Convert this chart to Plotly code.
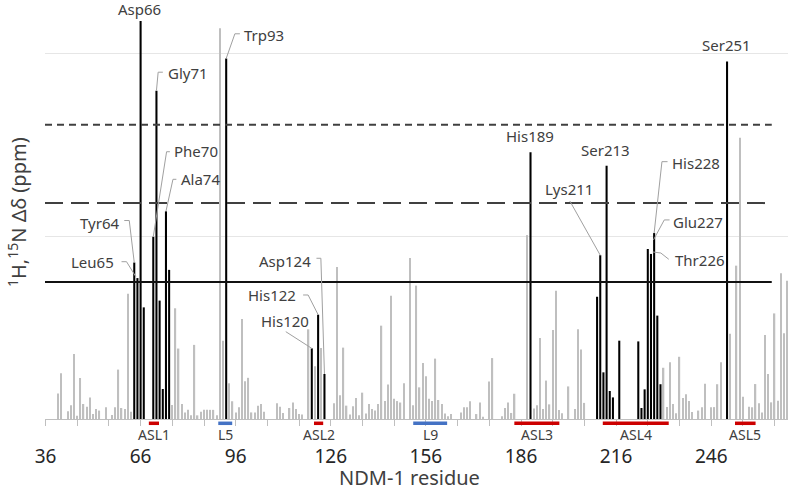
import plotly.graph_objects as go

# ---------------- data ----------------
first_residue = 36
delta_ppm = [
    0, 0, 0, 0, 0.014, 0.025, 0, 0.0042, 0.0075, 0.0355,                 # 36-45
    0.0018, 0.0224, 0.0082, 0.0067, 0.0118, 0.0027, 0.0055, 0.0046, 0, 0.0064,  # 46-55
    0, 0.0022, 0.0064, 0.027, 0.006, 0.0055, 0.0685, 0.004, 0.0855, 0.077,      # 56-65
    0.2175, 0.061, 0, 0, 0.0996, 0.1794, 0.0647, 0.0164, 0.1135, 0.0815,        # 66-75
    0.0077, 0.0605, 0.0385, 0.0082, 0.0036, 0.005, 0.002, 0.0405, 0.002, 0.004, # 76-85
    0.005, 0.005, 0.005, 0.005, 0.002, 0.2135, 0.0428, 0.197, 0.0195, 0.0097,   # 86-95
    0.0036, 0.0064, 0.0546, 0.0206, 0.0225, 0.0036, 0.0036, 0.0073, 0.0082, 0.004,  # 96-105
    0, 0, 0, 0.0086, 0.0067, 0.0033, 0, 0.006, 0.009, 0.0055,                   # 106-115
    0.0027, 0.0024, 0, 0.049, 0.0386, 0.0288, 0.057, 0.0388, 0.0246, 0,         # 116-125
    0, 0.0086, 0.083, 0.013, 0.039, 0.0073, 0.0025, 0.007, 0.0115, 0.002,       # 126-135
    0.0144, 0.003, 0.0082, 0.0055, 0.0046, 0.0082, 0.051, 0.0098, 0.0188, 0.0674,  # 136-145
    0.011, 0.0098, 0.009, 0.0195, 0, 0.088, 0.0075, 0.0729, 0.0173, 0.0306,     # 146-155
    0.0233, 0.011, 0.0098, 0.033, 0.0104, 0.0082, 0.003, 0.0015, 0.0027, 0,     # 156-165
    0, 0.0036, 0.0064, 0.0064, 0.0097, 0, 0.0027, 0.009, 0.0012, 0,             # 166-175
    0.0205, 0.0333, 0, 0, 0.0015, 0.006, 0.009, 0.0033, 0.0138, 0,              # 176-185
    0, 0, 0.1005, 0.1457, 0.0057, 0.0075, 0.0443, 0.0055, 0.021, 0.008,         # 186-195
    0.0486, 0.0701, 0.0049, 0.0032, 0, 0.0178, 0, 0.0055, 0.049, 0.038,         # 196-205
    0.0088, 0, 0, 0, 0.0668, 0.0895, 0.0255, 0.1384, 0.0153, 0.0118,            # 206-215
    0, 0.0428, 0, 0, 0, 0, 0, 0.0424, 0.006, 0.0162,                            # 216-225
    0.0929, 0.0902, 0.1016, 0.0565, 0.019, 0.028, 0.0065, 0.031, 0.0082, 0.0032,  # 226-235
    0.034, 0.0115, 0.0135, 0.0098, 0.0038, 0, 0.0046, 0.0064, 0.0193, 0,        # 236-245
    0.0064, 0.0065, 0.019, 0.031, 0, 0.1954, 0.0466, 0, 0.0838, 0.1537,         # 246-255
    0.0122, 0, 0.0067, 0.0064, 0.0191, 0.0086, 0.0036, 0.0459, 0.0246, 0.0091,  # 256-265
    0.0577, 0.01, 0.0796, 0.0468, 0.0756,                                       # 266-270
]
residues = list(range(first_residue, first_residue + len(delta_ppm)))

highlighted = [64, 65, 66, 67, 70, 71, 72, 73, 74, 75, 93, 120, 122, 124, 189,
               210, 211, 212, 213, 214, 215, 217, 223, 224, 225, 226, 227, 228,
               229, 230, 251]

# threshold lines (ppm) and where they stop on the residue axis
thr_solid = 0.0749
thr_longdash = 0.118
thr_shortdash = 0.1608
thr_end_residue = 265.1

tick_vals = [36, 66, 96, 126, 156, 186, 216, 246]
tick_text = ["36", "66", "96", "126", "156", "186", "216", "246"]

seg_names = ["ASL1", "L5", "ASL2", "L9", "ASL3", "ASL4", "ASL5"]
seg_start = [68.6, 90.5, 120.7, 152.0, 183.9, 211.8, 253.5]
seg_end = [71.8, 94.9, 123.6, 162.7, 198.1, 232.6, 260.0]
seg_kind = ["red", "blue", "red", "blue", "red", "red", "red"]

label_names = ["Asp66", "Gly71", "Phe70", "Ala74", "Tyr64", "Leu65", "Trp93",
               "Asp124", "His122", "His120", "His189", "Ser213", "Lys211",
               "His228", "Glu227", "Thr226", "Ser251"]

# ---------------- styling / placement ----------------
GRAY = "#BFBFBF"
TXT = "#404040"
FONT = "Noto Sans"
SEG_COLORS = {"red": "#CC0000", "blue": "#4472C4"}

# per label: text anchor, text offset (px, +down), leader polyline (px, +down)
label_place = {
    "Asp66": ("center", -0.7, -12.3, None),
    "Gly71": ("left", 9.5, -18, [(0, 0), (1.7, -18.5), (6.4, -18.5)]),
    "Phe70": ("left", 18.5, -85.6, [(0, 0), (13.3, -85), (16.6, -85)]),
    "Ala74": ("left", 13, -32, [(0, 0), (7.0, -32), (10.4, -32)]),
    "Tyr64": ("right", -13.5, -40, [(0, 0), (-5, -42), (-10, -42)]),
    "Leu65": ("right", -21.6, -15.8, [(-1.6, -1.4), (-10.9, -16.4), (-15.9, -16.4)]),
    "Trp93": ("left", 16, -23.5, [(0, 0), (8.7, -24.7), (13.7, -24.7)]),
    "Asp124": ("right", -11.5, -112.5, [(0, 0), (-3.6, -115.7), (-8, -115.7)]),
    "His122": ("right", -20, -19.7, [(0, 0), (-10, -19.7), (-15, -19.7)]),
    "His120": ("center", -27, -27.4, [(0, 0), (-26, -16.7)]),
    "His189": ("center", -0.6, -16.4, None),
    "Ser213": ("center", -0.7, -15.7, None),
    "Lys211": ("center", -31.4, -66, [(0, 0), (-30.4, -54.2)]),
    "His228": ("left", 16, -69.8, [(0, 0), (7.8, -71.4), (13.4, -71.4)]),
    "Glu227": ("left", 20.3, -32.2, [(2.5, -14), (13.3, -34), (18.6, -34)]),
    "Thr226": ("left", 25.2, 11, [(5, 3), (13, 4), (21, 10.3)]),
    "Ser251": ("center", -1, -16.4, None),
}

W, H = 788, 490
ML, MR, MT, MB = 45, 0, 0, 71
px_per_res = 3.17
x_left = first_residue - 0.5 / px_per_res
x_right = x_left + (W - ML - MR) / px_per_res
plot_h = H - MT - MB
y_top = plot_h / 1830.0  # 0.1 ppm = 183 px

val = dict(zip(residues, delta_ppm))
gx = [r for r in residues if r not in highlighted]
gy = [val[r] for r in gx]
bx = [r for r in residues if r in highlighted]
by = [val[r] for r in bx]

fig = go.Figure()
fig.add_trace(go.Bar(x=gx, y=gy, width=0.42, marker=dict(color=GRAY, line=dict(width=0)),
                     showlegend=False, hoverinfo="x+y"))
fig.add_trace(go.Bar(x=bx, y=by, width=0.65, marker=dict(color="#000000", line=dict(width=0)),
                     showlegend=False, hoverinfo="x+y"))

for t, dash, col in [(thr_solid, "solid", "#111111"),
                     (thr_longdash, "18px,8px", "#404040"),
                     (thr_shortdash, "7px,5px", "#404040")]:
    fig.add_trace(go.Scatter(x=[x_left, thr_end_residue], y=[t, t], mode="lines",
                             line=dict(color=col, width=2, dash=dash),
                             showlegend=False, hoverinfo="skip"))

shapes = []
annotations = []

for name in label_names:
    res = int(name[3:])
    anchor, dx, dy, leader = label_place[name]
    annotations.append(dict(x=res, y=val[res], xref="x", yref="y", text=name,
                            showarrow=False, xanchor=anchor, yanchor="middle",
                            xshift=dx, yshift=-dy,
                            font=dict(family=FONT, size=15, color=TXT)))
    if leader:
        path = "M " + " L ".join(f"{px},{-py}" for px, py in leader)
        shapes.append(dict(type="path", xref="x", yref="y", xsizemode="pixel",
                           ysizemode="pixel", xanchor=res, yanchor=val[res],
                           path=path, line=dict(color="#A0A0A0", width=1)))

# region bars under the axis
seg_y = -4.3 / plot_h
lab_y = -15.5 / plot_h
for n, s, e, k in zip(seg_names, seg_start, seg_end, seg_kind):
    shapes.append(dict(type="line", xref="x", yref="paper", x0=s, x1=e, y0=seg_y, y1=seg_y,
                       line=dict(color=SEG_COLORS[k], width=3.5)))
    annotations.append(dict(x=(s + e) / 2, y=lab_y, xref="x", yref="paper", text=n,
                            showarrow=False, xanchor="center", yanchor="middle",
                            font=dict(family=FONT, size=14, color=TXT)))

annotations.append(dict(x=(409 - ML) / (W - ML - MR), y=(plot_h - 478) / plot_h,
                        xref="paper", yref="paper", text="NDM-1 residue", showarrow=False,
                        xanchor="center", yanchor="middle",
                        font=dict(family=FONT, size=20, color=TXT)))
annotations.append(dict(x=(17 - ML) / (W - ML - MR), y=(plot_h - 212) / plot_h,
                        xref="paper", yref="paper",
                        text="<sup>1</sup>H,<sup>15</sup>N Δδ (ppm)", showarrow=False,
                        textangle=-90, xanchor="center", yanchor="middle",
                        font=dict(family=FONT, size=20, color=TXT)))

fig.update_layout(
    width=W, height=H, margin=dict(l=ML, r=MR, t=MT, b=MB),
    paper_bgcolor="white", plot_bgcolor="white", barmode="overlay",
    showlegend=False, shapes=shapes, annotations=annotations,
    font=dict(family=FONT, color=TXT),
    xaxis=dict(range=[x_left, x_right], tickmode="array", tickvals=tick_vals,
               ticktext=tick_text, ticks="outside", ticklen=6, tickwidth=1,
               tickcolor=GRAY, showline=True, linecolor=GRAY, linewidth=1,
               showgrid=False, zeroline=False, ticklabelstandoff=14,
               tickfont=dict(family=FONT, size=19, color="#262626"),
               minor=dict(ticks="outside", ticklen=6, tickcolor=GRAY, tickwidth=1,
                          tick0=36, dtick=10, showgrid=False)),
    yaxis=dict(range=[0, y_top], tickmode="array", tickvals=[0.1, 0.2],
               showticklabels=False, ticks="", showgrid=True, gridcolor="#E6E6E6",
               gridwidth=1, zeroline=False, showline=False),
)

fig.write_html("out.html", config={"displayModeBar": False},
               post_script="document.body.style.margin='0';document.body.style.padding='0';")
